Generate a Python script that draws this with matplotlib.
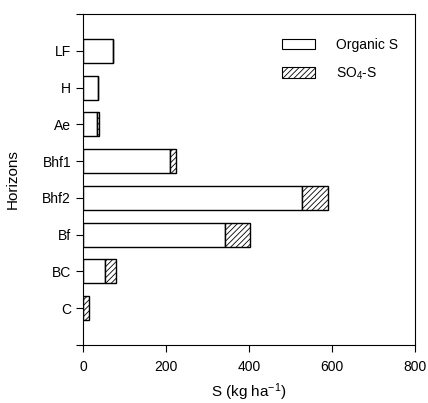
import numpy as np
import matplotlib.pyplot as plt
from matplotlib.patches import Patch

plt.rcParams['font.family'] = ['Liberation Sans', 'DejaVu Sans']
plt.rcParams['hatch.color'] = '#555555'
plt.rcParams['hatch.linewidth'] = 0.6
plt.rcParams['mathtext.default'] = 'regular'

horizons = ["LF", "H", "Ae", "Bhf1", "Bhf2", "Bf", "BC", "C"]
organic_s = [72, 37, 33, 210, 527, 343, 52, 0]
so4_s = [0, 0, 6, 15, 64, 60, 28, 14]

fig = plt.figure(figsize=(4.28, 4.03), dpi=100)
ax = fig.add_axes([0.194, 0.144, 0.776, 0.821])

pos = np.arange(1, len(horizons) + 1)
ax.barh(pos, organic_s, height=0.65, color="white", edgecolor="black", lw=1.0)
ax.barh(pos, so4_s, left=organic_s, height=0.65, color="white",
        edgecolor="black", lw=1.0, hatch="//////")

ax.set_ylim(9, 0)
ax.set_xlim(0, 800)
ax.set_yticks(pos)
ax.set_yticklabels(horizons)
ax.set_yticks([0, 9], minor=True)
ax.set_xticks([0, 200, 400, 600, 800])
ax.tick_params(axis="both", direction="out", length=5, width=0.8,
               labelsize=10, colors="black")
ax.tick_params(axis="y", which="minor", direction="out", length=5, width=0.8)
ax.tick_params(axis="x", pad=6)

ax.set_xlabel("S (kg ha$^{-1}$)", fontsize=11, labelpad=5)
ax.set_ylabel("Horizons", fontsize=11, labelpad=16)

handles = [Patch(facecolor="white", edgecolor="black", lw=0.8),
           Patch(facecolor="white", edgecolor="black", lw=0.8, hatch="//////")]
ax.legend(handles, ["Organic S", "SO$_4$-S"], loc="upper right",
          bbox_to_anchor=(0.985, 0.965), frameon=False, fontsize=10,
          handlelength=2.4, handleheight=0.75, handletextpad=1.5,
          labelspacing=0.95)

fig.savefig("out.png", dpi=100)
